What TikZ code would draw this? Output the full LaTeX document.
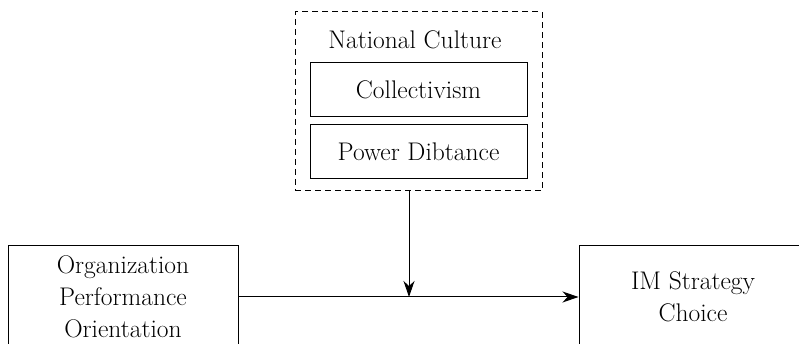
\documentclass[tikz,border=0pt]{standalone}
\usetikzlibrary{arrows.meta}

\begin{document}
\begin{tikzpicture}[x=1pt, y=1pt, >={Stealth[length=16pt, width=11pt, inset=5pt]}, line width=1pt,
	box/.style={draw, rectangle, align=center, inner sep=0pt, font=\fontsize{25.5}{32}\selectfont},
	frame/.style={draw, dashed, dash pattern=on 6pt off 4pt, rectangle, inner sep=0pt}]

	\useasboundingbox (0,0) rectangle (799,344);
	\clip (0,0) rectangle (799,344);

	% === NODES === (((
	\node[frame, minimum width=247pt, minimum height=179pt] (culture) at (418.5,242.5) {};
	\node[font=\fontsize{25.5}{30}\selectfont] (title) at (415,304) {National Culture};
	\node[box, minimum width=217pt, minimum height=54pt] (coll) at (418.5,254) {Collectivism};
	\node[box, minimum width=217pt, minimum height=54pt] (power) at (418.5,192) {Power Dibtance};

	\node[box, minimum width=230pt, minimum height=102pt] (org) at (123,47) {Organization\\Performance\\Orientation};
	\node[box, minimum width=228pt, minimum height=102pt] (im) at (693,47) {IM Strategy\\Choice};

	\coordinate (join) at (409,47);
	% )))

	% === LINES === (((
	\draw[->] (org) -- (im);
	\draw[->] (culture.south -| join) -- (join);
	% )))

\end{tikzpicture}
\end{document}
